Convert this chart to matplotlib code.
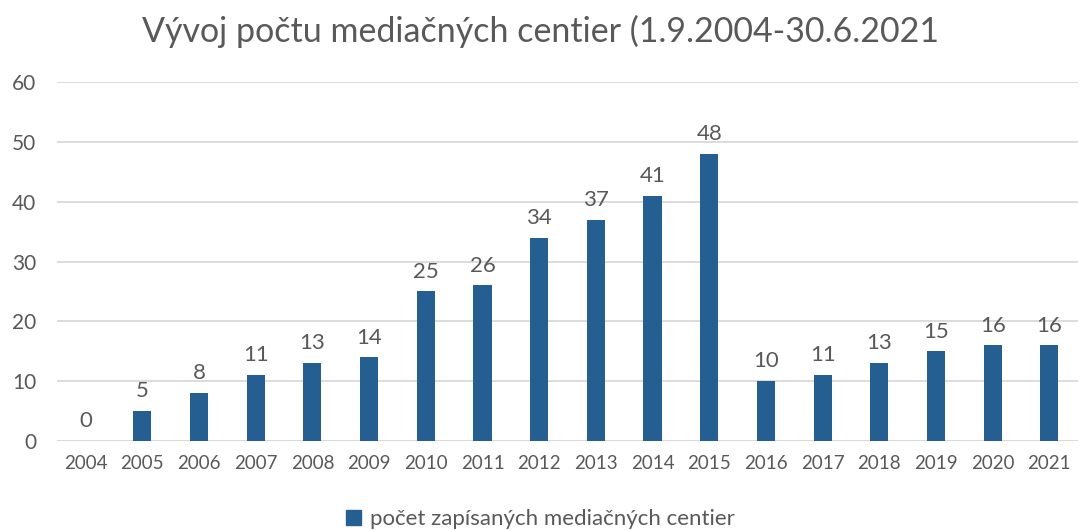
import matplotlib
matplotlib.use("Agg")
import matplotlib.pyplot as plt
from matplotlib.patches import Patch

years = ["2004", "2005", "2006", "2007", "2008", "2009", "2010", "2011", "2012",
         "2013", "2014", "2015", "2016", "2017", "2018", "2019", "2020", "2021"]
counts = [0, 5, 8, 11, 13, 14, 25, 26, 34, 37, 41, 48, 10, 11, 13, 15, 16, 16]
title = "Vývoj počtu mediačných centier (1.9.2004-30.6.2021"
series_label = "počet zapísaných mediačných centier"

plt.rcParams['font.family'] = ['Lato', 'DejaVu Sans']
bar_color = "#255E91"
text_color = "#595959"

fig = plt.figure(figsize=(10.81, 5.30), dpi=100)
ax = fig.add_axes([0.053, 0.168, 0.944, 0.677])
x = list(range(len(years)))
ax.bar(x, counts, width=0.32, color=bar_color, zorder=3)
ax.set_xlim(-0.5, len(years) - 0.5)
ax.set_ylim(0, 60)
ax.set_yticks(range(0, 61, 10))
ax.set_xticks(x)
ax.set_xticklabels(years)
ax.tick_params(axis='x', length=0, colors=text_color, labelsize=13.5, pad=10)
ax.tick_params(axis='y', length=0, colors=text_color, labelsize=15, pad=15)
ax.grid(axis='y', color="#D9D9D9", linewidth=1.3, zorder=0)
for s in ax.spines.values():
    s.set_visible(False)
ax.axhline(0, color="#D9D9D9", linewidth=1.3, zorder=1)

for xi, v in zip(x, counts):
    ax.annotate(str(v), (xi, v), xytext=(0, 7), textcoords='offset points',
                ha='center', va='bottom', fontsize=16, color=text_color)

fig.text(0.5, 0.94, title, ha='center', va='center', fontsize=24.5, color=text_color)
fig.legend(handles=[Patch(color=bar_color)], labels=[series_label],
           loc='center', bbox_to_anchor=(0.5, 0.02), frameon=False,
           fontsize=16, labelcolor=text_color, handlelength=0.7, handleheight=0.7,
           handletextpad=0.4)

fig.savefig("out.png", dpi=100)
